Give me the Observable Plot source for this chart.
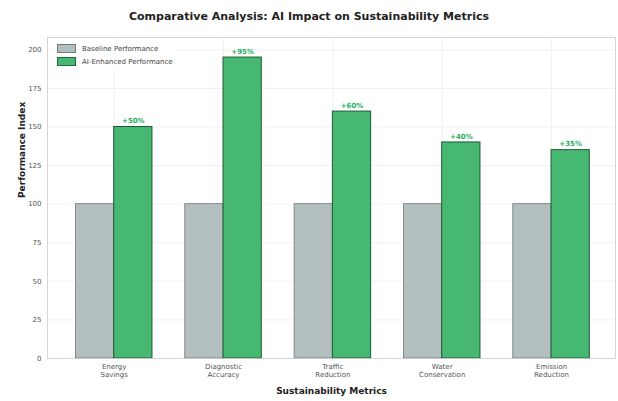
<!DOCTYPE html>
<html><head><meta charset="utf-8">
<script src="https://cdn.jsdelivr.net/npm/d3@7"></script>
<script src="https://cdn.jsdelivr.net/npm/@observablehq/plot@0.6"></script>
<style>
body{margin:0;background:#fff;font-family:"DejaVu Sans",sans-serif;}
#wrap{position:relative;width:618px;height:401px;}
#title{height:30px;line-height:34px;text-align:center;font-weight:bold;font-size:11px;color:#222;}
#legend{position:absolute;left:53px;top:40px;font-size:7px;color:#444;background:rgba(255,255,255,0.8);padding:2px 4px;border-radius:2px;}
.li{display:flex;align-items:center;height:13px;}
.sw{width:17px;height:7px;margin-right:6px;border:1px solid #555;}
</style></head>
<body><div id="wrap"><div id="title">Comparative Analysis: AI Impact on Sustainability Metrics</div><div id="chart"></div>
<div id="legend"><div class="li"><span class="sw" style="background:#b3bfbf;border-color:#6f7b7c"></span>Baseline Performance</div><div class="li"><span class="sw" style="background:#47b872;border-color:#1e6b3c"></span>AI-Enhanced Performance</div></div></div>
<script>
const categories = ["Energy\nSavings","Diagnostic\nAccuracy","Traffic\nReduction","Water\nConservation","Emission\nReduction"];
const baseline = [100,100,100,100,100];
const enhanced = [150,195,160,140,135];
const labels = ["+50%","+95%","+60%","+40%","+35%"];
const yTicks = [0,25,50,75,100,125,150,175,200];

const w = 0.35;
const rows = categories.map((c,i)=>({i,c,b:baseline[i],e:enhanced[i],l:labels[i]}));

const chart = Plot.plot({
  width:618, height:371,
  marginLeft:47, marginRight:3, marginTop:7, marginBottom:43,
  style:{fontFamily:"DejaVu Sans, sans-serif", background:"#fff"},
  x:{domain:[-0.61,4.585], ticks:d3.range(categories.length), tickFormat:i=>categories[i], tickSize:0, tickPadding:4, label:null},
  y:{domain:[0,208], ticks:yTicks, tickSize:0, tickPadding:6, label:null},
  marks:[
    Plot.gridY(yTicks,{stroke:"#ddd", strokeOpacity:0.7, strokeWidth:0.6}),
    Plot.gridX(d3.range(categories.length),{stroke:"#ddd", strokeOpacity:0.7, strokeWidth:0.6}),
    Plot.rectY(rows,{x1:d=>d.i-w, x2:d=>d.i, y1:0, y2:"b", fill:"#b3bfbf", stroke:"#6f7b7c", strokeWidth:0.8}),
    Plot.rectY(rows,{x1:d=>d.i, x2:d=>d.i+w, y1:0, y2:"e", fill:"#47b872", stroke:"#1e5a34", strokeWidth:1}),
    Plot.text(rows,{x:d=>d.i+w/2, y:"e", text:"l", dy:-6, fill:"#27ae60", fontWeight:"bold", fontSize:7}),
    Plot.frame({stroke:"#ccc", strokeWidth:0.8}),
    Plot.axisX({ticks:d3.range(categories.length), tickFormat:i=>categories[i], tickSize:0, tickPadding:5, fontSize:7, fill:"#555", lineHeight:1.15, label:null}),
    Plot.axisY({ticks:yTicks, tickSize:0, tickPadding:6, fontSize:7, fill:"#555", label:null}),
    Plot.text(["Sustainability Metrics"],{frameAnchor:"bottom", dy:35, fontWeight:"bold", fontSize:9, fill:"#222"}),
    Plot.text(["Performance Index"],{frameAnchor:"left", dx:-25, rotate:-90, fontWeight:"bold", fontSize:9, fill:"#222"})
  ]
});
document.getElementById("chart").appendChild(chart);
</script></body></html>
